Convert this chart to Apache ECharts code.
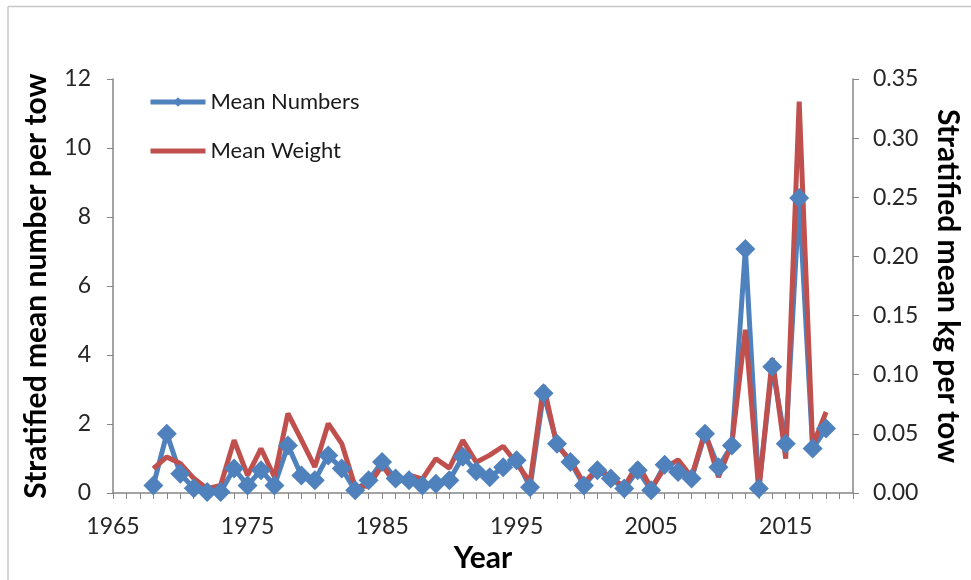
<!DOCTYPE html>
<html>
<head>
<meta charset="utf-8">
<script src="https://cdn.jsdelivr.net/npm/echarts@6/dist/echarts.min.js"></script>
<style>
html,body{margin:0;padding:0;background:#fff;}
#chart{width:971px;height:580px;}
</style>
</head>
<body>
<div id="chart"></div>
<script>
var years = [1968,1969,1970,1971,1972,1973,1974,1975,1976,1977,1978,1979,1980,1981,1982,1983,1984,1985,1986,1987,1988,1989,1990,1991,1992,1993,1994,1995,1996,1997,1998,1999,2000,2001,2002,2003,2004,2005,2006,2007,2008,2009,2010,2011,2012,2013,2014,2015,2016,2017,2018];
var meanNumbers = [0.22,1.72,0.56,0.14,0.03,0.03,0.71,0.22,0.66,0.22,1.38,0.51,0.37,1.09,0.71,0.08,0.37,0.90,0.42,0.37,0.22,0.27,0.37,1.05,0.63,0.46,0.75,0.95,0.17,2.89,1.43,0.90,0.22,0.66,0.42,0.13,0.66,0.08,0.82,0.61,0.42,1.72,0.75,1.38,7.07,0.13,3.66,1.43,8.55,1.29,1.87];
var meanWeight = [0.0206,0.0305,0.0249,0.0124,0.0037,0.0065,0.0446,0.015,0.0376,0.0135,0.0672,0.045,0.022,0.0587,0.0418,0.005,0.006,0.0234,0.008,0.015,0.012,0.029,0.021,0.0446,0.026,0.032,0.0395,0.025,0.0093,0.091,0.040,0.028,0.008,0.021,0.0135,0.005,0.025,0.004,0.021,0.028,0.0135,0.052,0.0135,0.042,0.138,0.002,0.114,0.029,0.331,0.040,0.0685];
var seriesNames = ['Mean Numbers','Mean Weight'];
var xTitle = 'Year';
var leftTitle = 'Stratified mean number per tow';
var rightTitle = 'Stratified mean kg per tow';

var FONT = 'Lato';
var BLUE = '#4F81BD', RED = '#C0504D';
var chart = echarts.init(document.getElementById('chart'), null, {renderer:'canvas'});
function pairs(xs, ys){ return xs.map(function(x,i){ return [x, ys[i]]; }); }
var axisGray = '#868686';
chart.setOption({
  animation:false,
  backgroundColor:'#fff',
  textStyle:{fontFamily:FONT},
  graphic:[
    {type:'line', shape:{x1:8,y1:6.5,x2:971,y2:6.5}, style:{stroke:'#c8c8c8',lineWidth:1.5}},
    {type:'line', shape:{x1:8,y1:6.5,x2:8,y2:580}, style:{stroke:'#c8c8c8',lineWidth:1.5}}
  ],
  grid:{left:113,right:116,top:79,bottom:87,containLabel:false},
  legend:{
    orient:'vertical', left:143, top:86, itemWidth:55, itemHeight:12, itemGap:27,
    textStyle:{fontFamily:FONT,fontSize:22,color:'#1a1a1a'},
    lineStyle:{width:5},
    data:[
      {name:seriesNames[0]},
      {name:seriesNames[1], itemStyle:{opacity:0}}
    ]
  },
  xAxis:{
    type:'value', min:1965, max:2020, interval:10,
    name:xTitle, nameLocation:'middle', nameGap:49,
    nameTextStyle:{fontFamily:FONT,fontSize:30,fontWeight:'bold',color:'#000'},
    axisLine:{lineStyle:{color:axisGray,width:1.5}},
    axisTick:{show:true,length:6,lineStyle:{color:axisGray}},
    minorTick:{show:true,splitNumber:10,length:6,lineStyle:{color:axisGray}},
    axisLabel:{fontFamily:FONT,fontSize:23,color:'#262626',margin:22,showMaxLabel:false,
      formatter:function(v){return String(v);}},
    splitLine:{show:false}
  },
  yAxis:[{
    type:'value', min:0, max:12, interval:2, position:'left',
    name:leftTitle, nameLocation:'middle', nameGap:62,
    nameTextStyle:{fontFamily:FONT,fontSize:30,fontWeight:'bold',color:'#000'},
    axisLine:{show:true,lineStyle:{color:axisGray,width:1.5}},
    axisTick:{show:true,length:6,lineStyle:{color:axisGray}},
    axisLabel:{fontFamily:FONT,fontSize:23,color:'#262626',margin:22},
    splitLine:{show:false}
  },{
    type:'value', min:0, max:0.35, interval:0.05, position:'right',
    name:rightTitle, nameLocation:'middle', nameGap:80, nameRotate:-90,
    nameTextStyle:{fontFamily:FONT,fontSize:30,fontWeight:'bold',color:'#000'},
    axisLine:{show:true,lineStyle:{color:axisGray,width:1.5}},
    axisTick:{show:true,length:6,lineStyle:{color:axisGray}},
    axisLabel:{fontFamily:FONT,fontSize:23,color:'#262626',margin:20,
      formatter:function(v){return v.toFixed(2);}},
    splitLine:{show:false}
  }],
  series:[{
    name:seriesNames[0], type:'line', yAxisIndex:0,
    data:pairs(years, meanNumbers),
    symbol:'diamond', symbolSize:20, showAllSymbol:true,
    lineStyle:{color:BLUE,width:5},
    itemStyle:{color:BLUE}
  },{
    name:seriesNames[1], type:'line', yAxisIndex:1,
    data:pairs(years, meanWeight),
    symbol:'none',
    lineStyle:{color:RED,width:5},
    itemStyle:{color:RED}
  }]
});
</script>
</body>
</html>
